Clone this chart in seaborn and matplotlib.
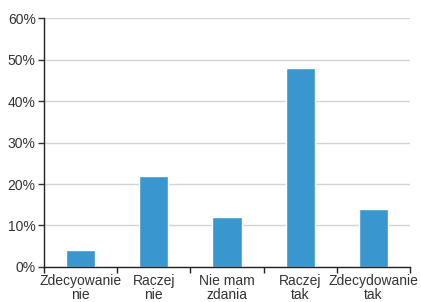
import numpy as np
import pandas as pd
import matplotlib
matplotlib.use("Agg")
import matplotlib.pyplot as plt
import seaborn as sns
from matplotlib.ticker import PercentFormatter, FixedLocator

categories = ["Zdecyowanie\nnie", "Raczej\nnie", "Nie mam\nzdania", "Raczej\ntak", "Zdecydowanie\ntak"]
values = [4, 22, 12, 48, 14]

df = pd.DataFrame({"kat": categories, "proc": values})

sns.set_style("white")
plt.rcParams["font.family"] = ["Liberation Sans", "DejaVu Sans"]

fig = plt.figure(figsize=(4.21, 3.02), dpi=100)
ax = fig.add_axes([0.1045, 0.116, 0.8695, 0.824])
sns.barplot(data=df, x="kat", y="proc", color="#3996ce", saturation=1, width=0.4, ax=ax)

ax.set_ylim(0, 60)
ax.set_xlim(-0.5, 4.5)
ax.set_yticks(range(0, 61, 10))
ax.yaxis.set_major_formatter(PercentFormatter(decimals=0))
ax.yaxis.grid(True, color="#d4d4d4", linewidth=1)
ax.set_axisbelow(True)
ax.set_xlabel("")
ax.set_ylabel("")

ax.xaxis.set_minor_locator(FixedLocator(np.arange(-0.5, 5, 1)))
ax.tick_params(axis="x", which="major", length=0, labelsize=10, pad=5, colors="#333333")
ax.tick_params(axis="x", which="minor", length=4, width=1, color="#222222", direction="out", bottom=True)
ax.tick_params(axis="y", length=4, width=1, labelsize=10, pad=2, colors="#333333", left=True)
for lbl in ax.get_xticklabels():
    lbl.set_linespacing(1.05)

for s in ["top", "right"]:
    ax.spines[s].set_visible(False)
for s in ["left", "bottom"]:
    ax.spines[s].set_color("#222222")
    ax.spines[s].set_linewidth(1)

fig.savefig("out.png", dpi=100)
